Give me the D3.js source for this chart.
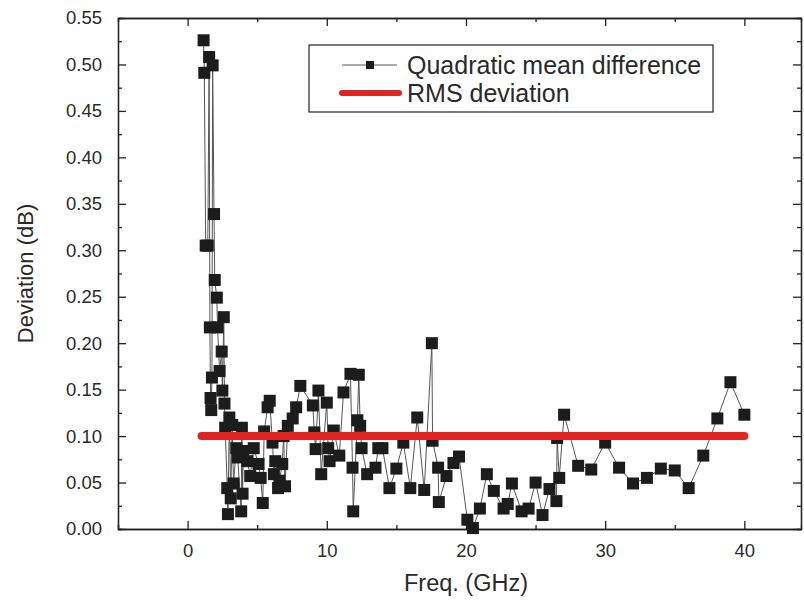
<!DOCTYPE html>
<html>
<head>
<meta charset="utf-8">
<script src="https://cdnjs.cloudflare.com/ajax/libs/d3/7.8.5/d3.min.js"></script>
<style>
  body { margin: 0; background: #fff; }
  text { font-family: "Liberation Sans", Arial, sans-serif; fill: #2a2a2a; }
</style>
</head>
<body>
<svg class="chart"></svg>
<script>
// Quadratic mean difference, frequency (GHz) and deviation (dB)
var freqs = [1.15, 1.2, 1.3, 1.45, 1.55, 1.6, 1.65, 1.7, 1.75, 1.8, 1.9, 1.95, 2.1, 2.15, 2.3, 2.45, 2.5, 2.6, 2.65, 2.7,
    2.85, 2.9, 3.0, 3.1, 3.2, 3.3, 3.5, 3.6, 3.85, 3.9, 3.95, 4.0, 4.3, 4.5, 4.75, 5.1, 5.25, 5.4, 5.5, 5.75,
    5.9, 6.1, 6.2, 6.3, 6.5, 6.6, 6.8, 6.9, 7.0, 7.2, 7.55, 7.8, 8.1, 9.0, 9.1, 9.2, 9.4, 9.6, 10.0, 10.1,
    10.2, 10.5, 10.9, 11.2, 11.7, 11.85, 11.9, 12.2, 12.3, 12.4, 12.5, 12.9, 13.5, 13.7, 14.0, 14.5, 15.0, 15.5, 16.0, 16.5,
    17.0, 17.55, 17.6, 18.0, 18.05, 18.6, 19.1, 19.5, 20.1, 20.5, 21.0, 21.5, 22.0, 22.7, 23.0, 23.3, 24.0, 24.5, 25.0, 25.5,
    26.0, 26.5, 26.55, 26.7, 27.05, 28.06, 29.0, 30.0, 31.0, 32.0, 33.0, 34.0, 35.0, 36.0, 37.05, 38.06, 39.0, 40.0];
var qmd = [0.526, 0.491, 0.305, 0.305, 0.508, 0.217, 0.141, 0.128, 0.163, 0.499, 0.339, 0.268, 0.249, 0.217, 0.170, 0.191, 0.149, 0.228, 0.135, 0.109,
    0.044, 0.016, 0.120, 0.033, 0.112, 0.049, 0.087, 0.077, 0.019, 0.109, 0.038, 0.084, 0.073, 0.057, 0.087, 0.070, 0.055, 0.028, 0.105, 0.131,
    0.138, 0.093, 0.059, 0.073, 0.044, 0.052, 0.070, 0.100, 0.046, 0.111, 0.119, 0.131, 0.154, 0.133, 0.104, 0.086, 0.149, 0.059, 0.136, 0.087,
    0.073, 0.106, 0.079, 0.147, 0.167, 0.066, 0.019, 0.117, 0.166, 0.111, 0.087, 0.059, 0.066, 0.087, 0.087, 0.044, 0.065, 0.093, 0.044, 0.120,
    0.042, 0.200, 0.095, 0.066, 0.029, 0.057, 0.071, 0.078, 0.010, 0.001, 0.022, 0.059, 0.041, 0.022, 0.027, 0.049, 0.019, 0.022, 0.050, 0.015,
    0.043, 0.030, 0.098, 0.055, 0.123, 0.068, 0.064, 0.093, 0.066, 0.049, 0.055, 0.065, 0.063, 0.044, 0.079, 0.119, 0.158, 0.123];

// RMS deviation line
var rmsFreqs = [1, 40];
var rmsValue = 0.10;

var xTicks = [0, 10, 20, 30, 40];
var xMinor = [-5, 5, 15, 25, 35];
var yTicks = [0, 0.05, 0.10, 0.15, 0.20, 0.25, 0.30, 0.35, 0.40, 0.45, 0.50, 0.55];
var yMinor = [0.025, 0.075, 0.125, 0.175, 0.225, 0.275, 0.325, 0.375, 0.425, 0.475, 0.525];

var legendLabels = ["Quadratic mean difference", "RMS deviation"];

var width = 804, height = 605;
var margin = {top: 18, right: 3, bottom: 76, left: 118};
var plotW = width - margin.left - margin.right;
var plotH = height - margin.top - margin.bottom;

var svg = d3.select(".chart")
    .attr("width", width)
    .attr("height", height);

var xScale = d3.scaleLinear().domain([-5, 44.07]).range([0, plotW]);
var yScale = d3.scaleLinear().domain([0, 0.55]).range([plotH, 0]);

var g = svg.append("g")
    .attr("transform", "translate(" + margin.left + "," + margin.top + ")");

// axes, ticks point inward
var fmtY = d3.format(".2f");
var bottomAxis = d3.axisBottom(xScale).tickValues(xTicks).tickSizeInner(-8).tickSizeOuter(0).tickPadding(15);
var bottomMinor = d3.axisBottom(xScale).tickValues(xMinor).tickSize(-4).tickFormat("");
var leftAxis = d3.axisLeft(yScale).tickValues(yTicks).tickSizeInner(-8).tickSizeOuter(0).tickPadding(16).tickFormat(fmtY);
var leftMinor = d3.axisLeft(yScale).tickValues(yMinor).tickSize(-4).tickFormat("");
var rightAxis = d3.axisRight(yScale).tickValues(yTicks).tickSizeInner(-8).tickSizeOuter(0).tickFormat("");
var rightMinor = d3.axisRight(yScale).tickValues(yMinor).tickSize(-4).tickFormat("");
var topAxis = d3.axisTop(xScale).tickValues(xTicks).tickSizeInner(-8).tickSizeOuter(0).tickFormat("");
var topMinor = d3.axisTop(xScale).tickValues(xMinor).tickSize(-4).tickFormat("");

function styleAxis(sel) {
    sel.selectAll("path").attr("stroke", "#222").attr("stroke-width", 1.3);
    sel.selectAll("line").attr("stroke", "#222").attr("stroke-width", 1.3);
    sel.selectAll("text").attr("font-size", 18.5).attr("fill", "#2a2a2a")
        .style("font-family", "'Liberation Sans', Arial, sans-serif");
}

g.append("g").attr("transform", "translate(0," + plotH + ")").call(bottomAxis).call(styleAxis);
g.append("g").attr("transform", "translate(0," + plotH + ")").call(bottomMinor).call(styleAxis);
g.append("g").call(leftAxis).call(styleAxis);
g.append("g").call(leftMinor).call(styleAxis);
g.append("g").attr("transform", "translate(" + plotW + ",0)").call(rightAxis).call(styleAxis);
g.append("g").attr("transform", "translate(" + plotW + ",0)").call(rightMinor).call(styleAxis);
g.append("g").call(topAxis).call(styleAxis);
g.append("g").call(topMinor).call(styleAxis);

// data line + squares
var pts = freqs.map(function(f, i) { return [f, qmd[i]]; });
var line = d3.line()
    .x(function(d) { return xScale(d[0]); })
    .y(function(d) { return yScale(d[1]); });

g.append("path")
    .datum(pts)
    .attr("d", line)
    .attr("fill", "none")
    .attr("stroke", "#555")
    .attr("stroke-width", 1);

var sq = 12;
g.selectAll("rect.pt")
    .data(pts)
    .enter()
    .append("rect")
    .attr("class", "pt")
    .attr("x", function(d) { return xScale(d[0]) - sq / 2; })
    .attr("y", function(d) { return yScale(d[1]) - sq / 2; })
    .attr("width", sq)
    .attr("height", sq)
    .attr("fill", "#1c1c1c");

g.append("line")
    .attr("x1", xScale(rmsFreqs[0]))
    .attr("x2", xScale(rmsFreqs[1]))
    .attr("y1", yScale(rmsValue))
    .attr("y2", yScale(rmsValue))
    .attr("stroke", "#e2231f")
    .attr("stroke-width", 8)
    .attr("stroke-linecap", "round");

// legend
var lg = svg.append("g").attr("transform", "translate(309,45)");
lg.append("rect")
    .attr("width", 404)
    .attr("height", 67)
    .attr("fill", "#fff")
    .attr("stroke", "#333")
    .attr("stroke-width", 1.3);
lg.append("line").attr("x1", 33).attr("x2", 88).attr("y1", 20).attr("y2", 20)
    .attr("stroke", "#555").attr("stroke-width", 1);
lg.append("rect").attr("x", 57).attr("y", 16).attr("width", 8).attr("height", 8).attr("fill", "#1c1c1c");
lg.append("line").attr("x1", 33).attr("x2", 90).attr("y1", 48).attr("y2", 48)
    .attr("stroke", "#e2231f").attr("stroke-width", 6).attr("stroke-linecap", "round");
lg.selectAll("text.lab")
    .data(legendLabels)
    .enter()
    .append("text")
    .attr("class", "lab")
    .attr("x", 98)
    .attr("y", function(d, i) { return 20 + i * 28; })
    .attr("dy", "0.35em")
    .attr("font-size", 25)
    .text(function(d) { return d; });

// axis titles
svg.append("text")
    .attr("x", margin.left + xScale(20))
    .attr("y", 591)
    .attr("text-anchor", "middle")
    .attr("font-size", 23.5)
    .text("Freq. (GHz)");

svg.append("text")
    .attr("transform", "translate(33," + (margin.top + plotH / 2) + ") rotate(-90)")
    .attr("text-anchor", "middle")
    .attr("font-size", 22)
    .text("Deviation (dB)");
</script>
</body>
</html>
